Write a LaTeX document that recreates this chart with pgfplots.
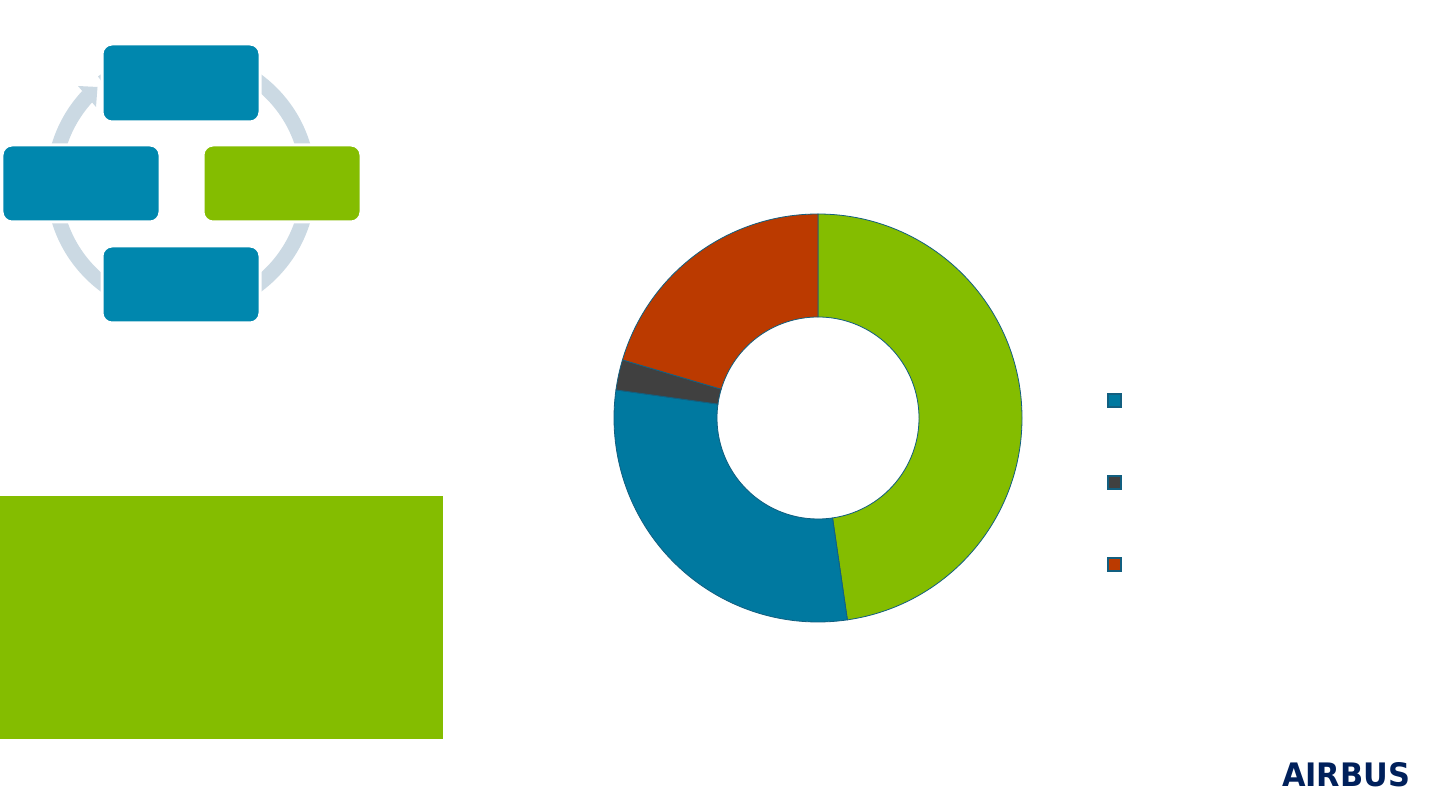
\documentclass[border=0pt]{standalone}
\usepackage{fontspec}
\setmainfont{DejaVu Sans}
\usepackage{pgfplots}
\usepackage{pgfplotstable}
\pgfplotsset{compat=1.18}
\definecolor{s0}{HTML}{84BD00}
\definecolor{s1}{HTML}{0079A0}
\definecolor{s2}{HTML}{404040}
\definecolor{s3}{HTML}{BB3A00}
\definecolor{edgec}{HTML}{125F80}
\definecolor{boxblue}{HTML}{0087AE}
\definecolor{ringc}{HTML}{CBD9E3}
\definecolor{navy}{HTML}{00205B}
\pgfplotstableread{
label value
A 47.7
B 29.5
C 2.4
D 20.4
}\donut
\xdef\cumangle{90}
\pgfplotsforeachungrouped \i in {0,...,3}{%
  \pgfplotstablegetelem{\i}{value}\of\donut
  \pgfmathsetmacro\startang{\cumangle}%
  \pgfmathsetmacro\stopang{\cumangle-3.6*\pgfplotsretval}%
  \expandafter\xdef\csname sA\i\endcsname{\startang}%
  \expandafter\xdef\csname sB\i\endcsname{\stopang}%
  \xdef\cumangle{\stopang}%
}
\begin{document}
\begin{tikzpicture}
\begin{axis}[x=0.5bp, y=0.5bp, xmin=0, xmax=1440, ymin=0, ymax=810,
  hide axis, clip=false, scale only axis]
\fill[white] (axis cs:0,0) rectangle (axis cs:1440,810);
% cycle diagram
\draw[ringc, line width=7.5bp] (axis cs:{181+127.5*cos(137)},{627+127.5*sin(137)}) arc[start angle=137, end angle=488, radius=63.75bp];
\fill[ringc] (axis cs:78,724) -- (axis cs:96,703) -- (axis cs:97.5,723) -- cycle;
\filldraw[fill=boxblue, draw=white, line width=1.5bp, rounded corners=5bp] (axis cs:102,688) rectangle (axis cs:260,766);
\filldraw[fill=boxblue, draw=white, line width=1.5bp, rounded corners=5bp] (axis cs:2,588) rectangle (axis cs:160,665);
\filldraw[fill=s0, draw=white, line width=1.5bp, rounded corners=5bp] (axis cs:203,588) rectangle (axis cs:361,665);
\filldraw[fill=boxblue, draw=white, line width=1.5bp, rounded corners=5bp] (axis cs:102,487) rectangle (axis cs:260,564);
% green box
\fill[s0] (axis cs:0,71) rectangle (axis cs:443,314);
% donut
\pgfplotsinvokeforeach{0,...,3}{
  \filldraw[fill=s#1, draw=edgec, line width=0.4pt]
   (axis cs:{818+204*cos(\csname sA#1\endcsname)},{392+204*sin(\csname sA#1\endcsname)})
   arc[start angle=\csname sA#1\endcsname, end angle=\csname sB#1\endcsname, radius=102bp]
   -- (axis cs:{818+101*cos(\csname sB#1\endcsname)},{392+101*sin(\csname sB#1\endcsname)})
   arc[start angle=\csname sB#1\endcsname, end angle=\csname sA#1\endcsname, radius=50.5bp]
   -- cycle;
}
% legend markers
\filldraw[fill=s1, draw=edgec, line width=0.6pt] (axis cs:1108,403) rectangle (axis cs:1121,416);
\filldraw[fill=s2, draw=edgec, line width=0.6pt] (axis cs:1108,321) rectangle (axis cs:1121,334);
\filldraw[fill=s3, draw=edgec, line width=0.6pt] (axis cs:1108,239) rectangle (axis cs:1121,252);
% logo
\node[text=navy, inner sep=0pt] at (axis cs:1346,35) {\resizebox{64bp}{12bp}{\bfseries AIRBUS}};
\end{axis}
\end{tikzpicture}
\end{document}
